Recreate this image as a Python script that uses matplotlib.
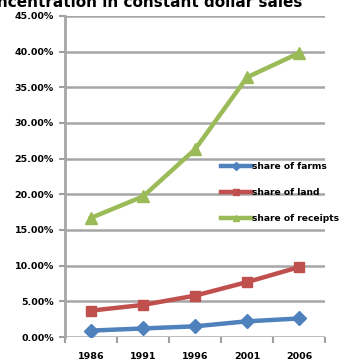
import numpy as np
import matplotlib.pyplot as plt
from matplotlib.ticker import PercentFormatter

# census years and shares (fraction of total)
years = ["1986", "1991", "1996", "2001", "2006"]
share_farms = [0.009, 0.012, 0.015, 0.022, 0.026]
share_land = [0.037, 0.045, 0.058, 0.077, 0.098]
share_receipts = [0.167, 0.197, 0.263, 0.364, 0.398]

fig = plt.figure(figsize=(3.44, 3.62), dpi=100)
ax = fig.add_axes([0.189, 0.069, 0.756, 0.887])

x = np.arange(len(years))
ax.plot(x, share_farms, color="#4F81BD", lw=3.2, marker="D", ms=7,
        label="share of farms")
ax.plot(x, share_land, color="#C0504D", lw=3.2, marker="s", ms=7.5,
        label="share of land")
ax.plot(x, share_receipts, color="#9BBB59", lw=3.2, marker="^", ms=9,
        label="share of receipts")

ax.set_xlim(-0.5, len(years) - 0.5)
ax.set_ylim(0, 0.45)
ax.set_yticks(np.arange(0, 0.451, 0.05))
ax.yaxis.set_major_formatter(PercentFormatter(1.0, decimals=2))
ax.set_xticks(x)
ax.set_xticklabels(years)
# category-boundary ticks under the x axis
ax.set_xticks(np.arange(-0.5, len(years), 1), minor=True)
ax.tick_params(axis="x", which="major", length=0, pad=11)
ax.tick_params(axis="x", which="minor", length=4, width=1.5, color="#A0A0A0",
               direction="out")
ax.tick_params(axis="y", length=4, width=1.5, color="#A0A0A0", pad=4)

for lbl in ax.get_xticklabels() + ax.get_yticklabels():
    lbl.set_fontsize(6.8)
    lbl.set_fontweight("bold")

ax.grid(axis="y", color="#A6A6A6", lw=1.8)
ax.set_axisbelow(True)
for side in ["top", "right", "bottom"]:
    ax.spines[side].set_visible(False)
ax.spines["left"].set_color("#A6A6A6")
ax.spines["left"].set_linewidth(2)

leg = ax.legend(loc="upper left", bbox_to_anchor=(0.6, 0.545), frameon=False,
                prop={"size": 6.6, "weight": "bold"}, handlelength=3.3,
                handletextpad=0.1, labelspacing=1.85, borderaxespad=0,
                borderpad=0)
for h in leg.legend_handles:
    h.set_markersize(4)

fig.text(302 / 344, 1 - 7 / 362, "Farm concentration in constant dollar sales",
         ha="right", va="baseline", fontsize=11, fontweight="bold")

fig.savefig("out.png", dpi=100)
